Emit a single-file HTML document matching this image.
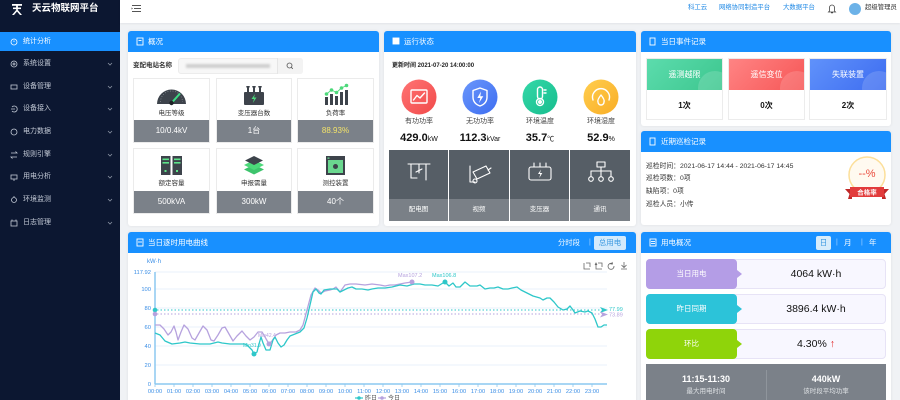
<!DOCTYPE html>
<html><head><meta charset="utf-8">
<style>
*{margin:0;padding:0;box-sizing:border-box}
html,body{width:900px;height:400px;overflow:hidden}
body{background:#f0f2f5;font-family:"Liberation Sans","Noto Sans CJK SC",sans-serif;position:relative;color:#333}
.a{position:absolute}
.side{left:0;top:0;width:120px;height:400px;background:#0c1731}
.topbar{left:120px;top:0;width:780px;height:23px;background:#fff;box-shadow:0 1px 2px rgba(0,0,0,.06)}
.mi{position:absolute;left:23px;font-size:7px;color:#c3cad6;height:10px;line-height:10px}
.panel{position:absolute;background:#fff;border-radius:3px;box-shadow:0 0 3px rgba(0,0,0,.08)}
.ph{position:absolute;left:0;top:0;right:0;height:21px;background:#1890ff;border-radius:3px 3px 0 0;color:#fff;font-size:7.5px;line-height:21px;padding-left:20px}
.tile{position:absolute;background:#fff;border:1px solid #ebebeb}
.tile .lb{position:absolute;left:0;right:0;top:30px;text-align:center;font-size:6.5px;color:#333;line-height:10px}
.tile .bt{position:absolute;left:0;right:0;bottom:0;height:22px;background:#7b8189;color:#fff;font-size:8px;line-height:22px;text-align:center}
.cl{position:absolute;width:60px;text-align:center;font-size:7px;color:#444;line-height:10px}
.cv{position:absolute;width:70px;text-align:center;font-size:11px;font-weight:bold;color:#111;line-height:14px}
.cv small{font-size:7px;font-weight:normal}
.dk{position:absolute;top:150px;height:49px;background:#565e66}
.dl{position:absolute;top:199px;height:22px;background:#7a8087;color:#fff;font-size:6.5px;line-height:22px;text-align:center}
.card{position:absolute;top:58px;width:77px;height:62px;background:#fff;border:1px solid #ececec}
.card .t{height:31px;color:#fff;font-size:8px;line-height:31px;text-align:center;position:relative;overflow:hidden}
.card .v{height:31px;font-size:8px;font-weight:bold;line-height:31px;text-align:center;color:#111}
.ins{position:absolute;left:646px;font-size:6.8px;color:#333;line-height:10px}
.row{position:absolute;left:646px;width:240px;height:30px;background:#f8f7ff;border:1px solid #e7e3f6;border-radius:4px}
.row .lbx{position:absolute;left:-1px;top:-1px;width:91px;height:30px;border-radius:4px;color:#fff;font-size:7.5px;line-height:30px;text-align:center}
.row .lbx:after{content:"";position:absolute;right:-5px;top:11px;border-left:5px solid;border-left-color:inherit;border-top:4px solid transparent;border-bottom:4px solid transparent}
.row .val{position:absolute;left:100px;right:0;top:0;line-height:28px;text-align:center;font-size:10.5px;color:#111}
</style></head><body>

<div class="a side"></div>
<div class="a" style="left:0;top:32px;width:120px;height:19px;background:#1890ff"></div>
<div class="a" style="left:32px;top:2px;font-size:9.5px;font-weight:bold;color:#fff;line-height:14px">天云物联网平台</div>
<div class="mi" style="top:37px;color:#fff">统计分析</div>
<div class="mi" style="top:59px">系统设置</div>
<div class="mi" style="top:82px">设备管理</div>
<div class="mi" style="top:104px">设备接入</div>
<div class="mi" style="top:127px">电力数据</div>
<div class="mi" style="top:150px">规则引擎</div>
<div class="mi" style="top:172px">用电分析</div>
<div class="mi" style="top:195px">环境监测</div>
<div class="mi" style="top:218px">日志管理</div>

<div class="a topbar"></div>
<div class="a" style="left:688px;top:3px;font-size:6.4px;color:#1e88e5;line-height:10px">科工云</div>
<div class="a" style="left:719px;top:3px;font-size:6.4px;color:#1e88e5;line-height:10px">网络协同制造平台</div>
<div class="a" style="left:783px;top:3px;font-size:6.4px;color:#1e88e5;line-height:10px">大数据平台</div>
<div class="a" style="left:849px;top:3px;width:12px;height:12px;border-radius:50%;background:#6cb2e8"></div>
<div class="a" style="left:865px;top:3px;font-size:6.4px;color:#333;line-height:10px">超级管理员</div>

<!-- P1 概况 -->
<div class="panel" style="left:128px;top:31px;width:251px;height:195px"><div class="ph">概况</div></div>
<div class="a" style="left:133px;top:61px;font-size:6.5px;font-weight:bold;color:#333;line-height:10px">变配电站名称</div>
<div class="a" style="left:178px;top:58px;width:125px;height:16px;background:#f7f7f7;border:1px solid #ececec;border-radius:3px"></div>
<div class="a" style="left:186px;top:64px;width:84px;height:4px;background:#cfcfcf;filter:blur(1px)"></div>
<div class="a" style="left:277px;top:58px;width:26px;height:16px;border-left:1px solid #e5e5e5;background:#f3f3f3;border-radius:0 3px 3px 0"></div>

<div class="tile" style="left:133px;top:78px;width:77px;height:65px"><div class="lb">电压等级</div><div class="bt">10/0.4kV</div></div>
<div class="tile" style="left:216px;top:78px;width:76px;height:65px"><div class="lb">变压器台数</div><div class="bt">1台</div></div>
<div class="tile" style="left:297px;top:78px;width:77px;height:65px"><div class="lb">负荷率</div><div class="bt" style="color:#f3e36a">88.93%</div></div>
<div class="tile" style="left:133px;top:148px;width:77px;height:66px"><div class="lb">额定容量</div><div class="bt">500kVA</div></div>
<div class="tile" style="left:216px;top:148px;width:76px;height:66px"><div class="lb">申报需量</div><div class="bt">300kW</div></div>
<div class="tile" style="left:297px;top:148px;width:77px;height:66px"><div class="lb">测控装置</div><div class="bt">40个</div></div>

<!-- P2 运行状态 -->
<div class="panel" style="left:384px;top:31px;width:252px;height:195px"><div class="ph">运行状态</div></div>
<div class="a" style="left:392px;top:61px;font-size:6px;font-weight:bold;color:#222;line-height:10px">更新时间 2021-07-20 14:00:00</div>
<div class="cl" style="left:389px;top:117px">有功功率</div>
<div class="cl" style="left:450px;top:117px">无功功率</div>
<div class="cl" style="left:510px;top:117px">环境温度</div>
<div class="cl" style="left:571px;top:117px">环境湿度</div>
<div class="cv" style="left:384px;top:131px">429.0<small>kW</small></div>
<div class="cv" style="left:445px;top:131px">112.3<small>kVar</small></div>
<div class="cv" style="left:505px;top:131px">35.7<small>℃</small></div>
<div class="cv" style="left:566px;top:131px">52.9<small>%</small></div>
<div class="dk" style="left:389px;width:59px"></div>
<div class="dk" style="left:449px;width:60px"></div>
<div class="dk" style="left:510px;width:59px"></div>
<div class="dk" style="left:570px;width:60px"></div>
<div class="dl" style="left:389px;width:59px">配电图</div>
<div class="dl" style="left:449px;width:60px">视频</div>
<div class="dl" style="left:510px;width:59px">变压器</div>
<div class="dl" style="left:570px;width:60px">通讯</div>

<!-- P3 当日事件记录 -->
<div class="panel" style="left:641px;top:31px;width:250px;height:95px"><div class="ph">当日事件记录</div></div>
<div class="card" style="left:646px"><div class="t" style="background:linear-gradient(135deg,#5cdcad,#3cc68e)">遥测越限<span class="a" style="right:-10px;top:12px;width:34px;height:34px;border-radius:50%;background:rgba(255,255,255,.15)"></span></div><div class="v">1次</div></div>
<div class="card" style="left:728px"><div class="t" style="background:linear-gradient(135deg,#ff8484,#f65656)">遥信变位<span class="a" style="right:-10px;top:12px;width:34px;height:34px;border-radius:50%;background:rgba(255,255,255,.15)"></span></div><div class="v">0次</div></div>
<div class="card" style="left:809px;width:78px"><div class="t" style="background:linear-gradient(135deg,#6092fb,#3d6cf0)">失联装置<span class="a" style="right:-10px;top:12px;width:34px;height:34px;border-radius:50%;background:rgba(255,255,255,.15)"></span></div><div class="v">2次</div></div>

<!-- P4 近期巡检记录 -->
<div class="panel" style="left:641px;top:131px;width:250px;height:94px"><div class="ph">近期巡检记录</div></div>
<div class="ins" style="top:162px">巡检时间：2021-06-17 14:44 - 2021-06-17 14:45</div>
<div class="ins" style="top:174px">巡检项数：0项</div>
<div class="ins" style="top:187px">缺陷项：0项</div>
<div class="ins" style="top:200px">巡检人员：小传</div>

<!-- P5 chart panel -->
<div class="panel" style="left:128px;top:232px;width:508px;height:180px"><div class="ph">当日逐时用电曲线</div></div>
<div class="a" style="left:558px;top:236px;font-size:7.3px;color:#fff;line-height:14px">分时段</div>
<div class="a" style="left:589px;top:236px;font-size:7px;color:#a9d3ff;line-height:14px">|</div>
<div class="a" style="left:594px;top:236px;width:32px;height:14px;background:#d3eafc;border-radius:2px;font-size:7.5px;color:#3a98e0;line-height:14px;text-align:center">总用电</div>

<!-- P6 用电概况 -->
<div class="panel" style="left:641px;top:232px;width:250px;height:180px"><div class="ph">用电概况</div></div>
<div class="a" style="left:816px;top:236px;width:15px;height:14px;background:#d6ecfb;border-radius:2px;font-size:7.5px;color:#3a98e0;line-height:14px;text-align:center">日</div>
<div class="a" style="left:836px;top:236px;font-size:7px;color:#a9d3ff;line-height:14px">|</div>
<div class="a" style="left:844px;top:236px;font-size:7.5px;color:#fff;line-height:14px">月</div>
<div class="a" style="left:861px;top:236px;font-size:7px;color:#a9d3ff;line-height:14px">|</div>
<div class="a" style="left:869px;top:236px;font-size:7.5px;color:#fff;line-height:14px">年</div>
<div class="row" style="top:259px"><div class="lbx" style="background:#b49de6;border-color:#b49de6">当日用电</div><div class="val">4064 kW·h</div></div>
<div class="row" style="top:294px"><div class="lbx" style="background:#2cc3d9;border-color:#2cc3d9">昨日同期</div><div class="val">3896.4 kW·h</div></div>
<div class="row" style="top:329px"><div class="lbx" style="background:#8fd40a;border-color:#8fd40a">环比</div><div class="val">4.30% <span style="color:#e02020;font-weight:bold">↑</span></div></div>
<div class="a" style="left:646px;top:364px;width:240px;height:40px;background:#7b8189"></div>
<div class="a" style="left:766px;top:370px;width:1px;height:30px;background:#8f959c"></div>
<div class="a" style="left:646px;top:373px;width:120px;text-align:center;font-size:9px;font-weight:bold;color:#fff;line-height:12px">11:15-11:30</div>
<div class="a" style="left:646px;top:387px;width:120px;text-align:center;font-size:6.5px;color:#dfe2e5;line-height:10px">最大用电时间</div>
<div class="a" style="left:766px;top:373px;width:120px;text-align:center;font-size:9px;font-weight:bold;color:#fff;line-height:12px">440kW</div>
<div class="a" style="left:766px;top:387px;width:120px;text-align:center;font-size:6.5px;color:#dfe2e5;line-height:10px">该时段平均功率</div>

<svg class="a" style="left:0;top:0" width="900" height="400" viewBox="0 0 900 400" xmlns="http://www.w3.org/2000/svg">
<!-- logo -->
<g fill="#fff"><rect x="12" y="4" width="10" height="1.8"/><rect x="13" y="7.5" width="8" height="1.6"/><path d="M16 4 L18 4 L17.8 10 L22 15 L20 15 L17 11.5 L14 15 L12 15 L16.2 10 Z"/></g>
<!-- sidebar icons -->
<g fill="none" stroke="#c3cad6" stroke-width="0.8">
<circle cx="14" cy="42" r="3" stroke="#fff"/><line x1="14" y1="40.5" x2="14" y2="42" stroke="#fff"/>
<circle cx="14" cy="64" r="3"/><circle cx="14" cy="64" r="1"/>
<rect x="11" y="85" width="6" height="4"/>
<path d="M12 107 A3 3 0 1 1 12 111 M11 109 L15 109"/>
<circle cx="14" cy="132" r="3"/>
<path d="M11 153 L17 153 L15.5 151.5 M17 157 L11 157 L12.5 158.5"/>
<rect x="11" y="175" width="6" height="4"/><line x1="14" y1="179" x2="14" y2="181"/>
<circle cx="14" cy="200" r="2.5"/><line x1="14" y1="196" x2="14" y2="197"/>
<rect x="11" y="221" width="6" height="5"/><line x1="12" y1="221" x2="12" y2="219.5"/><line x1="16" y1="221" x2="16" y2="219.5"/>
</g>
<g fill="none" stroke="#8a93a3" stroke-width="0.8">
<path d="M108 63 L110 65 L112 63"/><path d="M108 86 L110 88 L112 86"/><path d="M108 108 L110 110 L112 108"/><path d="M108 131 L110 133 L112 131"/><path d="M108 154 L110 156 L112 154"/><path d="M108 176 L110 178 L112 176"/><path d="M108 199 L110 201 L112 199"/><path d="M108 222 L110 224 L112 222"/>
</g>
<!-- hamburger -->
<g stroke="#555" stroke-width="1"><line x1="132" y1="5.5" x2="141" y2="5.5"/><line x1="134" y1="8.5" x2="141" y2="8.5"/><line x1="132" y1="11.5" x2="141" y2="11.5"/></g><path d="M131.5 7.5 L133 8.5 L131.5 9.5Z" fill="#555"/>
<!-- bell -->
<path d="M829.5 11 L829.5 7.5 A2.5 2.5 0 0 1 834.5 7.5 L834.5 11 L835.5 12 L828.5 12 Z M831 12.8 L833 12.8" fill="none" stroke="#444" stroke-width="0.8"/>
<!-- header icons -->
<g fill="none" stroke="#fff" stroke-width="0.9">
<rect x="137" y="38" width="6" height="7"/><line x1="138.5" y1="40.5" x2="141.5" y2="40.5"/>
<rect x="393" y="38" width="6" height="6" fill="#fff"/>
<rect x="650" y="38" width="5" height="7"/><rect x="650" y="138" width="5" height="7"/>
<rect x="137" y="239" width="6" height="7"/><line x1="138" y1="242" x2="142" y2="242"/>
<rect x="650" y="239" width="6" height="7"/><line x1="651" y1="241.5" x2="655" y2="241.5"/><line x1="651" y1="243.5" x2="655" y2="243.5"/>
</g>
<!-- search -->
<circle cx="289.5" cy="65.5" r="2.5" fill="none" stroke="#555" stroke-width="0.8"/><line x1="291.3" y1="67.3" x2="292.8" y2="68.8" stroke="#555" stroke-width="0.8"/>
<!-- tile icons -->
<path d="M157 104 A14.5 14.5 0 0 1 186 104 Z" fill="#3d434b"/>
<path d="M160.5 102 A11 11 0 0 1 182.5 102" fill="none" stroke="#8a9098" stroke-width="0.7" stroke-dasharray="1 1.6"/>
<line x1="171.5" y1="103" x2="180" y2="93.5" stroke="#3ddc84" stroke-width="2"/><circle cx="171.5" cy="103" r="2.2" fill="#1e2226"/>
<g fill="#3d434b"><rect x="244" y="92" width="20" height="13" rx="1"/><rect x="247" y="87" width="2" height="6"/><rect x="253" y="87" width="2" height="6"/><rect x="259" y="87" width="2" height="6"/><rect x="246.3" y="86" width="3.4" height="1.5"/><rect x="252.3" y="86" width="3.4" height="1.5"/><rect x="258.3" y="86" width="3.4" height="1.5"/></g>
<path d="M255 94 L251.5 99 L254 99 L252.8 103 L256.5 97.5 L254 97.5 Z" fill="#4cd97a"/>
<g fill="#3d434b"><rect x="325" y="97" width="3" height="8"/><rect x="330" y="94" width="3" height="11"/><rect x="335" y="96" width="3" height="9"/><rect x="340" y="92" width="3" height="13"/><rect x="345" y="90" width="3" height="15"/></g>
<polyline points="326.5,94 331.5,90 336.5,92.5 341.5,88 346.5,85.5" fill="none" stroke="#4cd97a" stroke-width="0.9"/>
<g fill="#4cd97a"><circle cx="326.5" cy="94" r="1.8"/><circle cx="331.5" cy="90" r="1.8"/><circle cx="336.5" cy="92.5" r="1.8"/><circle cx="341.5" cy="88" r="1.8"/><circle cx="346.5" cy="85.5" r="1.8"/></g>
<g fill="#3d434b"><rect x="161" y="156" width="9.5" height="19"/><rect x="172.5" y="156" width="9.5" height="19"/></g>
<g fill="#5ee38a"><rect x="162.5" y="158.5" width="6.5" height="1.6"/><rect x="162.5" y="162" width="6.5" height="1.6"/><rect x="174" y="158.5" width="6.5" height="1.6"/><rect x="174" y="162" width="6.5" height="1.6"/><rect x="164.5" y="170" width="2" height="2"/><rect x="176" y="170" width="2" height="2"/></g>
<polygon points="244,169.5 254,164.5 264,169.5 254,174.5" fill="#3ec46d"/>
<polygon points="244,165 254,160 264,165 254,170" fill="#4cd97a"/>
<polygon points="245,160.5 254,156 263,160.5 254,165" fill="#3d434b"/>
<rect x="326" y="156" width="19" height="19" fill="#3d434b"/><rect x="328" y="160" width="15" height="13" fill="#6ad88f"/>
<circle cx="335.5" cy="166.5" r="2.5" fill="#3d434b"/><rect x="327.5" y="157.5" width="2" height="1.3" fill="#6ad88f"/>
<!-- status circles -->
<defs>
<linearGradient id="gr" x1="0" y1="0" x2="1" y2="1"><stop offset="0" stop-color="#ff7474"/><stop offset="1" stop-color="#f14a4a"/></linearGradient>
<linearGradient id="gb" x1="0" y1="0" x2="1" y2="1"><stop offset="0" stop-color="#6a96fb"/><stop offset="1" stop-color="#3e6ef1"/></linearGradient>
<linearGradient id="gg" x1="0" y1="0" x2="1" y2="1"><stop offset="0" stop-color="#34d8a8"/><stop offset="1" stop-color="#17bd8e"/></linearGradient>
<linearGradient id="gy" x1="0" y1="0" x2="1" y2="1"><stop offset="0" stop-color="#ffce4f"/><stop offset="1" stop-color="#f9ad25"/></linearGradient>
</defs>
<circle cx="419" cy="97" r="17.5" fill="url(#gr)"/>
<circle cx="480" cy="97" r="17.5" fill="url(#gb)"/>
<circle cx="540" cy="97" r="17.5" fill="url(#gg)"/>
<circle cx="601" cy="97" r="17.5" fill="url(#gy)"/>
<g fill="none" stroke="#fff" stroke-width="1.4" stroke-linejoin="round" stroke-linecap="round">
<rect x="411" y="90" width="16" height="13" rx="1"/><polyline points="413.5,100 417,95.5 420,98 424.5,93"/>
<path d="M480 88 L487 90.5 L487 97 Q487 103.5 480 106 Q473 103.5 473 97 L473 90.5 Z"/>
<rect x="537.5" y="87" width="5" height="12" rx="2.5"/><circle cx="540" cy="102" r="3.5"/><line x1="544" y1="90" x2="546" y2="90"/><line x1="544" y1="93" x2="546" y2="93"/>
<path d="M593 100 A8.5 8.5 0 1 1 609 100"/><path d="M601 95 Q597 100 598 102 A3 3 0 0 0 604 102 Q605 100 601 95 Z"/>
</g>
<path d="M481 91.5 L477.3 98 L480.3 98 L479 103 L483.3 96.3 L480.3 96.3 Z" fill="#fff"/>
<circle cx="540" cy="102" r="2" fill="#fff"/>
<!-- dark tile icons -->
<g fill="none" stroke="#fff" stroke-width="1.1" stroke-linecap="round" stroke-linejoin="round">
<line x1="408" y1="164" x2="430" y2="164"/><line x1="411" y1="164" x2="411" y2="178"/><line x1="411" y1="178" x2="417" y2="178"/><line x1="419" y1="164" x2="419" y2="173"/><line x1="426" y1="164" x2="426" y2="180"/><line x1="416" y1="172" x2="422" y2="169"/>
<path d="M473 172 L486 166 L490 173 L477 179 Z"/><path d="M470 166 L470 182 L475 182"/><circle cx="475" cy="181" r="2"/><line x1="488" y1="170" x2="491" y2="168"/>
<rect x="529" y="167" width="22" height="13" rx="2"/><line x1="534" y1="163" x2="534" y2="167"/><line x1="540" y1="163" x2="540" y2="167"/><line x1="546" y1="163" x2="546" y2="167"/>
<rect x="597" y="162" width="8" height="5"/><line x1="601" y1="167" x2="601" y2="171"/><line x1="591" y1="171" x2="611" y2="171"/><line x1="591" y1="171" x2="591" y2="176"/><line x1="601" y1="171" x2="601" y2="176"/><line x1="611" y1="171" x2="611" y2="176"/>
<circle cx="591" cy="179" r="2.3"/><circle cx="601" cy="179" r="2.3"/><circle cx="611" cy="179" r="2.3"/>
</g>
<path d="M541 169.5 L538 174 L540.3 174 L539.3 178 L542.3 173 L540 173 Z" fill="#fff"/>
<!-- badge -->
<circle cx="867" cy="175" r="18" fill="#fffaf0" stroke="#fcdf9a" stroke-width="1.5"/>
<text x="867" y="177" font-size="11" fill="#ea4b3c" text-anchor="middle" font-family="Liberation Sans, sans-serif">--%</text>
<polygon points="845,189 852,189 852,199 848,199 849.5,194" fill="#c02828"/>
<polygon points="889,189 882,189 882,199 886,199 884.5,194" fill="#c02828"/>
<rect x="850" y="187" width="34" height="10" fill="#e23b3b"/>
<text x="867" y="194.5" font-size="6.5" fill="#fff" text-anchor="middle" font-weight="bold" font-family="Liberation Sans, Noto Sans CJK SC, sans-serif">合格率</text>

<!-- chart -->
<g font-family="Liberation Sans, Noto Sans CJK SC, sans-serif">
<text x="147" y="263" font-size="6" fill="#3a8ee6">kW·h</text>
<g stroke="#e3eefa" stroke-width="0.8">
<line x1="155" y1="272" x2="607" y2="272"/><line x1="155" y1="289" x2="607" y2="289"/><line x1="155" y1="308" x2="607" y2="308"/><line x1="155" y1="327" x2="607" y2="327"/><line x1="155" y1="346" x2="607" y2="346"/><line x1="155" y1="365" x2="607" y2="365"/>
</g>
<g font-size="5.8" fill="#3a8ee6" text-anchor="end">
<text x="151" y="274">117.92</text><text x="151" y="291">100</text><text x="151" y="310">80</text><text x="151" y="329">60</text><text x="151" y="348">40</text><text x="151" y="367">20</text><text x="151" y="386">0</text>
</g>
<line x1="155" y1="272" x2="155" y2="384" stroke="#8cc8f0" stroke-width="1.5"/>
<line x1="155" y1="384" x2="607" y2="384" stroke="#8cc8f0" stroke-width="1.5"/>
<g stroke="#8cc8f0" stroke-width="0.8">
<line x1="155" y1="384" x2="155" y2="387"/><line x1="174" y1="384" x2="174" y2="387"/><line x1="193" y1="384" x2="193" y2="387"/><line x1="212" y1="384" x2="212" y2="387"/><line x1="231" y1="384" x2="231" y2="387"/><line x1="250" y1="384" x2="250" y2="387"/><line x1="269" y1="384" x2="269" y2="387"/><line x1="288" y1="384" x2="288" y2="387"/><line x1="307" y1="384" x2="307" y2="387"/><line x1="326" y1="384" x2="326" y2="387"/><line x1="345" y1="384" x2="345" y2="387"/><line x1="364" y1="384" x2="364" y2="387"/><line x1="383" y1="384" x2="383" y2="387"/><line x1="402" y1="384" x2="402" y2="387"/><line x1="421" y1="384" x2="421" y2="387"/><line x1="440" y1="384" x2="440" y2="387"/><line x1="459" y1="384" x2="459" y2="387"/><line x1="478" y1="384" x2="478" y2="387"/><line x1="497" y1="384" x2="497" y2="387"/><line x1="516" y1="384" x2="516" y2="387"/><line x1="535" y1="384" x2="535" y2="387"/><line x1="554" y1="384" x2="554" y2="387"/><line x1="573" y1="384" x2="573" y2="387"/><line x1="592" y1="384" x2="592" y2="387"/>
</g>
<g font-size="5.7" fill="#3a8ee6" text-anchor="middle">
<text x="155" y="393">00:00</text><text x="174" y="393">01:00</text><text x="193" y="393">02:00</text><text x="212" y="393">03:00</text><text x="231" y="393">04:00</text><text x="250" y="393">05:00</text><text x="269" y="393">06:00</text><text x="288" y="393">07:00</text><text x="307" y="393">08:00</text><text x="326" y="393">09:00</text><text x="345" y="393">10:00</text><text x="364" y="393">11:00</text><text x="383" y="393">12:00</text><text x="402" y="393">13:00</text><text x="421" y="393">14:00</text><text x="440" y="393">15:00</text><text x="459" y="393">16:00</text><text x="478" y="393">17:00</text><text x="497" y="393">18:00</text><text x="516" y="393">19:00</text><text x="535" y="393">20:00</text><text x="554" y="393">21:00</text><text x="573" y="393">22:00</text><text x="592" y="393">23:00</text>
</g>
<!-- average lines -->
<line x1="157" y1="310" x2="601" y2="310" stroke="#2ec7c9" stroke-width="1" stroke-dasharray="1.5 2"/>
<line x1="157" y1="314" x2="601" y2="314" stroke="#b6a2de" stroke-width="1" stroke-dasharray="1.5 2"/>
<circle cx="155" cy="310" r="2.3" fill="#2ec7c9"/><circle cx="155" cy="314" r="2.3" fill="#b6a2de"/>
<polygon points="600,307 608,310 600,313 602,310" fill="#2ec7c9"/>
<polygon points="600,311.5 608,314.5 600,317.5 602,314.5" fill="#b6a2de"/>
<text x="609" y="311" font-size="5.5" fill="#2ec7c9">77.99</text>
<text x="609" y="316.5" font-size="5.5" fill="#b6a2de">73.89</text>
<!-- series -->
<polyline fill="none" stroke="#b6a2de" stroke-width="1.3" stroke-linejoin="round" points="155,325 160,325 164,329 168,335 171,332 174,326 176,332 178,340 181,332 184,325 188,329 192,338 195,340 199,333 203,326 207,330 211,340 214,341 218,335 222,328 225,327 229,334 233,341 237,336 242,331 246,336 250,340 254,337 258,332 262,332 265,337 269,344 272,341 276,335 280,333 285,333 290,332 296,332 300,330 303,325 307,310 311,295 315,288 318,290 321,293 325,291 330,290 333,289 336,287 340,292 345,285 350,284 356,284 365,285 372,284 380,285 385,286 390,285 395,285 400,284 405,283 412,282"/>
<polyline fill="none" stroke="#2ec7c9" stroke-width="1.3" stroke-linejoin="round" points="155,333 160,335 165,341 172,344 180,343 185,342 190,343 200,344 210,344 218,342 222,343 230,344 245,344 248,346 252,350 254,354 257,352 259,344 261,337 263,343 266,350 270,350 273,340 275,337 278,343 281,347 284,345 287,340 290,336 295,334 300,332 304,328 307,318 310,305 313,292 316,289 319,293 321,294 324,290 330,289 337,289 340,292 344,290 348,288 352,287 356,289 362,289 368,290 372,289 378,288 385,288 392,287 400,285 407,286 414,284 420,284 425,285 432,285 438,286 443,283 445,282 449,286 453,283 456,287 460,287 465,282 470,286 477,286 480,285 485,289 490,288 494,288 498,287 503,289 508,289 512,288 517,287 521,290 527,293 533,296 540,298 543,300 547,298 550,298 554,302 558,307 563,310 567,309 570,306 573,310 575,313 580,311 585,312 588,311 592,313 595,319 598,327 601,327 604,325 607,325"/>
<circle cx="254" cy="354" r="2.5" fill="#2ec7c9"/>
<circle cx="269" cy="344" r="2.5" fill="#b6a2de"/>
<circle cx="412" cy="282" r="2.5" fill="#b6a2de"/>
<circle cx="445" cy="282" r="2.5" fill="#2ec7c9"/>
<text x="243" y="347" font-size="5" fill="#2ec7c9">Min31.9</text>
<text x="258" y="337" font-size="5" fill="#b6a2de">Min42.4</text>
<text x="398" y="277" font-size="5.5" fill="#b6a2de">Max107.2</text>
<text x="432" y="277" font-size="5.5" fill="#2ec7c9">Max106.8</text>
<!-- toolbox -->
<g fill="none" stroke="#666" stroke-width="0.8">
<path d="M584 263 L584 269 L590 269 M586 263 L590 263 L590 267"/>
<path d="M596 263 L596 269 L602 269 M598 263 L602 263 L602 267 M595 265 L596 263 L597 265"/>
<path d="M612 263.5 A3 3 0 1 0 614 266 M612 262 L612.5 264 L610.5 264"/>
<path d="M624 262 L624 267 M621.5 265 L624 267.5 L626.5 265 M621 269 L627 269"/>
</g>
<!-- legend -->
<line x1="355" y1="398" x2="363" y2="398" stroke="#2ec7c9" stroke-width="1.2"/><circle cx="359" cy="398" r="1.8" fill="#2ec7c9"/>
<text x="365" y="400" font-size="6" fill="#555">昨日</text>
<line x1="378" y1="398" x2="386" y2="398" stroke="#b6a2de" stroke-width="1.2"/><circle cx="382" cy="398" r="1.8" fill="#b6a2de"/>
<text x="388" y="400" font-size="6" fill="#555">今日</text>
</g>
</svg>
</body></html>
